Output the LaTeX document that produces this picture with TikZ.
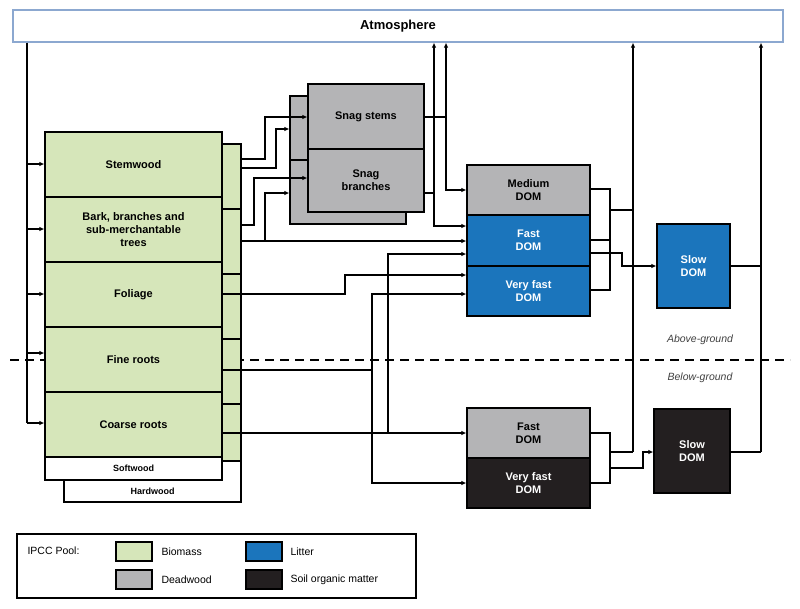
\documentclass[tikz,border=0pt]{standalone}
\usepackage{fontspec}
\setmainfont{Liberation Sans}
\usetikzlibrary{arrows.meta}
\definecolor{bio}{RGB}{214,230,186}
\definecolor{dead}{RGB}{180,180,182}
\definecolor{lit}{RGB}{27,117,188}
\definecolor{soil}{RGB}{35,31,32}
\definecolor{atmb}{RGB}{140,168,208}
\begin{document}
\begin{tikzpicture}[x=1pt,y=-1pt,
  box/.style={draw=black,line width=1.2pt,inner sep=0pt,align=center,font=\fontsize{11}{13}\selectfont\bfseries},
  gbox/.style={box,fill=bio},
  dbox/.style={box,fill=dead},
  lbox/.style={box,fill=lit,text=white},
  sbox/.style={box,fill=soil,text=white},
  ln/.style={line width=1.8pt,line join=miter},
  arr/.style={ln,-{Latex[length=5pt,width=4.5pt]}},
  sw/.style={draw=black,line width=1.2pt,minimum width=36pt,minimum height=19pt,inner sep=0pt},
  lg/.style={font=\fontsize{10.5}{12}\selectfont,anchor=west}]
\useasboundingbox (0,0) rectangle (800,608);
% Atmosphere
\node[box,draw=atmb,fill=white,minimum width=770pt,minimum height=32pt,font=\fontsize{13}{15}\selectfont\bfseries] (atm) at (398,26) {Atmosphere};
% ground line
\draw[dashed,line width=1.1pt,dash pattern=on 9pt off 6pt] (10,360) -- (790,360);
\node[font=\fontsize{10.5}{12}\selectfont\itshape,text=black!75] (ag) at (700,340) {Above-ground};
\node[font=\fontsize{10.5}{12}\selectfont\itshape,text=black!75] (bg) at (700,378) {Below-ground};
% hardwood back
\node[box,fill=white,minimum width=177pt,minimum height=358pt] (hw) at (152.5,323) {};
\foreach \a/\b in {144/209,209/274,274/339,339/404,404/461}
  \draw[fill=bio,line width=1.2pt] (222,\a) rectangle (241,\b);
\node[font=\fontsize{9}{11}\selectfont\bfseries] (hwl) at (152.5,491) {Hardwood};
\node[box,fill=white,minimum width=177pt,minimum height=23pt,font=\fontsize{9}{11}\selectfont\bfseries] (swl) at (133.5,468.5) {Softwood};
\node[gbox,minimum width=177pt,minimum height=65pt] (stem) at (133.5,164.5) {Stemwood};
\node[gbox,minimum width=177pt,minimum height=65pt] (bark) at (133.5,229.5) {Bark, branches and\\sub-merchantable\\trees};
\node[gbox,minimum width=177pt,minimum height=65pt] (fol) at (133.5,294.5) {Foliage};
\node[gbox,minimum width=177pt,minimum height=65pt] (fine) at (133.5,359.5) {Fine roots};
\node[gbox,minimum width=177pt,minimum height=65pt] (coarse) at (133.5,424.5) {Coarse roots};
% snags
\node[dbox,minimum width=116pt,minimum height=128pt] (sback) at (348,160) {};
\draw[line width=1.2pt] (sback.west |- 0,160) -- (308,160);
\node[dbox,minimum width=116pt,minimum height=65pt] (ss) at (366,116.5) {Snag stems};
\node[dbox,minimum width=116pt,minimum height=63pt] (sbr) at (366,180.5) {Snag\\branches};
% above DOM
\node[dbox,minimum width=123pt,minimum height=50pt] (med) at (528.5,190) {Medium\\DOM};
\node[lbox,minimum width=123pt,minimum height=51pt] (fa) at (528.5,240.5) {Fast\\DOM};
\node[lbox,minimum width=123pt,minimum height=50pt] (vfa) at (528.5,291) {Very fast\\DOM};
\node[lbox,minimum width=73pt,minimum height=84pt] (sla) at (693.5,266) {Slow\\DOM};
% below DOM
\node[dbox,minimum width=123pt,minimum height=50pt] (fb) at (528.5,433) {Fast\\DOM};
\node[sbox,minimum width=123pt,minimum height=50pt] (vfb) at (528.5,483) {Very fast\\DOM};
\node[sbox,minimum width=76pt,minimum height=84pt] (slb) at (692,451) {Slow\\DOM};
% left trunk from atmosphere
\draw[ln] (atm.south -| 27,0) -- (27,423);
\foreach \n/\y in {stem/164,bark/229,fol/294,fine/353,coarse/423}
  \draw[arr] (27,\y) -- (\n.west |- 0,\y);
% biomass to snags
\draw[arr] (hw.east |- 0,159) -| (265,117) -- (ss.west |- 0,117);
\draw[arr] (hw.east |- 0,168) -| (276,129) -- (sback.west |- 0,129);
\draw[arr] (hw.east |- 0,225) -| (254,178) -- (sbr.west |- 0,178);
\draw[arr] (hw.east |- 0,241) -- (fa.west |- 0,241);
\draw[arr] (265,241) -- (265,193) -- (sback.west |- 0,193);
% foliage
\draw[arr] (fol.east |- 0,294) -| (345,275) -- (vfa.west |- 0,275);
% fine roots
\draw[ln] (fine.east |- 0,370) -- (372,370);
\draw[arr] (372,370) |- (vfa.west |- 0,294);
\draw[arr] (372,370) |- (vfb.west |- 0,483);
% coarse roots
\draw[arr] (coarse.east |- 0,433) -- (fb.west |- 0,433);
\draw[arr] (388,433) |- (fa.west |- 0,254);
% snags to atmosphere & DOM
\draw[ln] (ss.east |- 0,117) -- (446,117);
\draw[arr] (446,190) -- (atm.south -| 446,0);
\draw[arr] (446,117) |- (med.west |- 0,190);
\draw[ln] (sbr.east |- 0,193) -- (434,193);
\draw[arr] (434,193) -- (atm.south -| 434,0);
\draw[arr] (434,193) |- (fa.west |- 0,226);
% above DOM outputs
\draw[ln] (med.east |- 0,189) -| (610,290) -- (vfa.east |- 0,290);
\draw[ln] (fa.east |- 0,240) -- (610,240);
\draw[ln] (610,210) -- (633,210);
\draw[arr] (fa.east |- 0,253) -| (622,266) -- (sla.west |- 0,266);
\draw[arr] (633,452) -- (atm.south -| 633,0);
\draw[ln] (sla.east |- 0,266) -- (761,266);
\draw[arr] (761,452) -- (atm.south -| 761,0);
% below DOM outputs
\draw[ln] (fb.east |- 0,433) -| (610,483) -- (vfb.east |- 0,483);
\draw[ln] (610,452) -- (633,452);
\draw[arr] (610,468) -| (643,452) -- (slb.west |- 0,452);
\draw[ln] (slb.east |- 0,452) -- (761,452);
% legend
\draw[line width=1.2pt] (17,534) rectangle (416,598);
\node[lg] (lt) at (24,551) {IPCC Pool:};
\node[sw,fill=bio] (s1) at (134,551.5) {};
\node[lg] (t1) at (158,551.5) {Biomass};
\node[sw,fill=dead] (s2) at (134,579.5) {};
\node[lg] (t2) at (158,579.5) {Deadwood};
\node[sw,fill=lit] (s3) at (264,551.5) {};
\node[lg] (t3) at (287,551.5) {Litter};
\node[sw,fill=soil] (s4) at (264,579.5) {};
\node[lg] (t4) at (287,579.5) {Soil organic matter};
\end{tikzpicture}
\end{document}
